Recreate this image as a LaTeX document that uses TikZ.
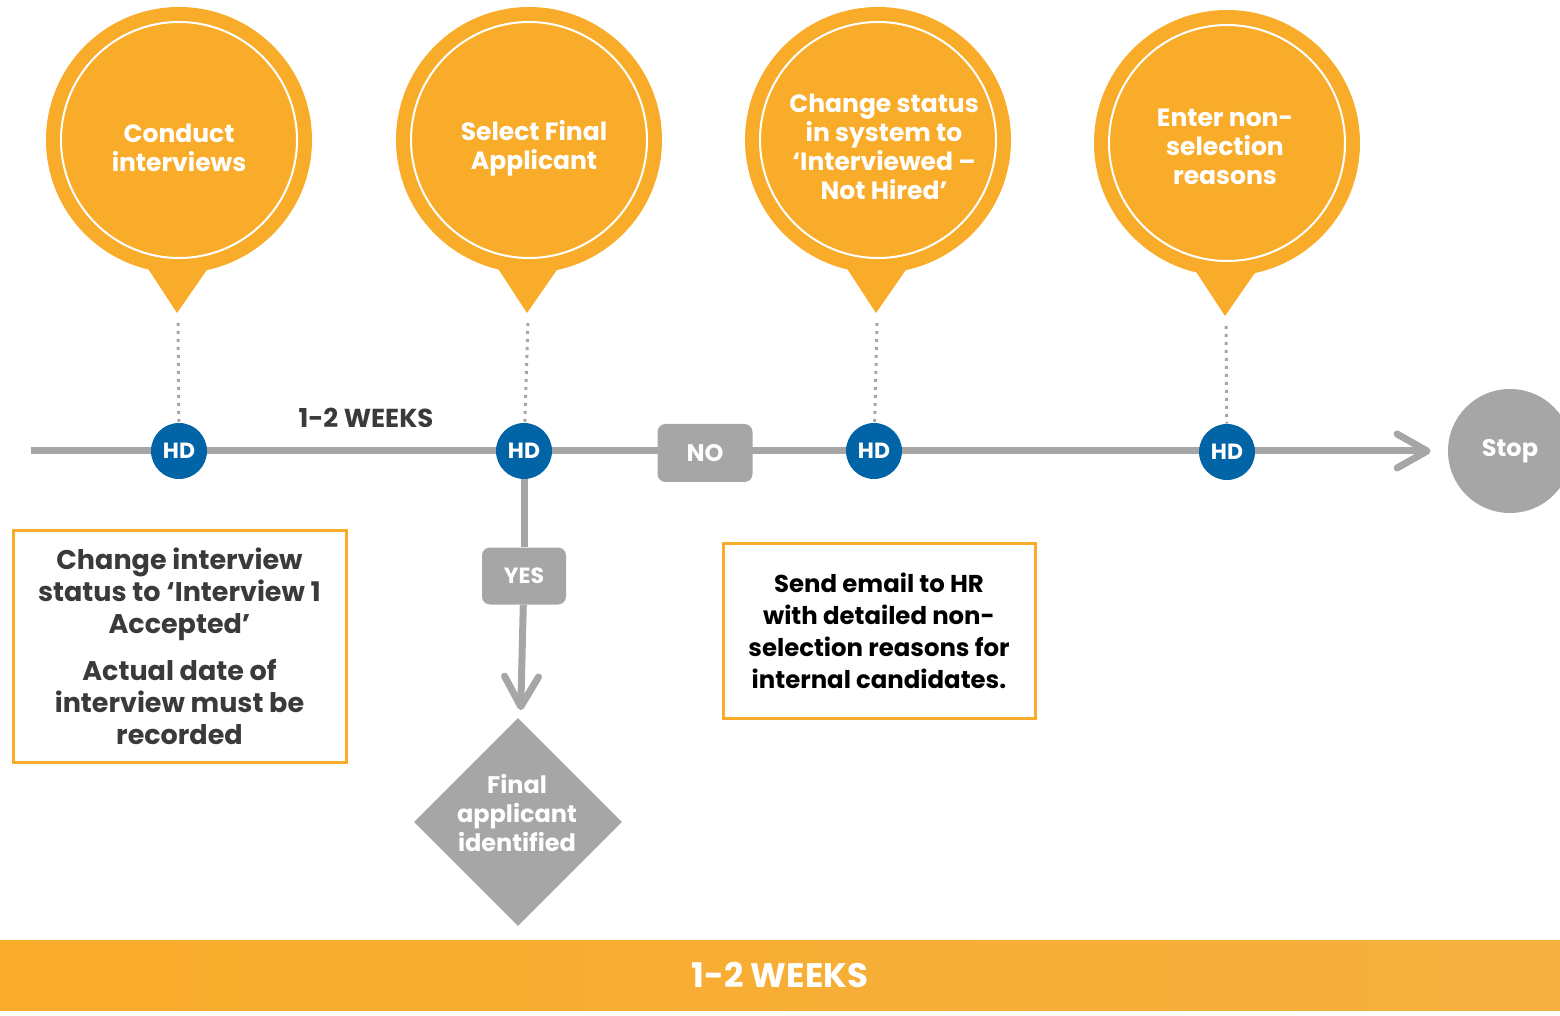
\documentclass[tikz,border=0pt]{standalone}
\usepackage{fontspec}
\setmainfont{Poppins}
\usetikzlibrary{positioning, shapes.geometric, arrows.meta, calc, backgrounds}

\definecolor{pinorange}{HTML}{F9AC2A}
\definecolor{bandlight}{HTML}{FBBA50}
\definecolor{bandright}{HTML}{F6B040}
\definecolor{linegray}{HTML}{A6A6A6}
\definecolor{hdblue}{HTML}{0064A7}
\definecolor{textgray}{HTML}{3A3A3A}

\tikzset{
  bubble/.style={circle, fill=pinorange, minimum size=133pt, inner sep=0pt,
    path picture={\draw[white, line width=1pt] (path picture bounding box.center) circle (59pt);}},
  bubbletext/.style={align=center, text=white, inner sep=0pt, font=\fontsize{12.5}{14.5}\selectfont\bfseries},
  hd/.style={circle, fill=hdblue, minimum size=28pt, inner sep=0pt, text=white, font=\fontsize{11}{12}\selectfont\bfseries},
  tag/.style={rectangle, rounded corners=4pt, fill=linegray, text=white, inner sep=0pt, font=\fontsize{12}{13}\selectfont\bfseries},
  note/.style={rectangle, draw=pinorange, line width=1.5pt, align=center, inner sep=0pt, font=\fontsize{13.5}{16}\selectfont\bfseries},
  decision/.style={diamond, aspect=1, fill=linegray, minimum width=104pt, minimum height=104pt, inner sep=0pt},
  mainline/.style={draw=linegray, line width=3.5pt},
  flowarrow/.style={mainline, -{Straight Barb[length=15pt, width=17pt, round]}},
  dotline/.style={draw=linegray, line width=1.5pt, dash pattern=on 1.5pt off 2.5pt}
}

\begin{document}
\begin{tikzpicture}[x=0.5pt, y=-0.5pt]
    \useasboundingbox (0,0) rectangle (1560,1016);

    \node[bubble] (c1) at (179,140) {};
    \node[bubble] (c2) at (529,140) {};
    \node[bubble] (c3) at (878,140) {};
    \node[bubble] (c4) at (1227,143) {};
    \foreach \n in {1,...,4} {
        \fill[pinorange] ($(c\n)+(-34,124)$) -- ($(c\n)+(-2,173)$) -- ($(c\n)+(32,124)$) -- cycle;
        \coordinate (t\n) at ($(c\n)+(-1,173)$);
    }
    \node[bubbletext] (c1text) at (179,148) {Conduct\\interviews};
    \node[bubbletext] (c2text) at (534,148) {Select Final\\Applicant};
    \node[bubbletext] (c3text) at (884,147) {Change status\\in system to\\‘Interviewed –\\Not Hired’};
    \node[bubbletext] (c4text) at (1225,147) {Enter non-\\selection\\reasons};

    \node[hd] (h1) at (179,451) {HD};
    \node[hd] (h2) at (524,451) {HD};
    \node[hd] (h3) at (874,451) {HD};
    \node[hd] (h4) at (1227,452) {HD};

    \node[tag, minimum width=47.5pt, minimum height=29pt] (no) at (705,453) {NO};
    \node[tag, minimum width=42pt, minimum height=28.5pt, font=\fontsize{11}{12}\selectfont\bfseries] (yes) at (524,576) {YES};
    \node[decision] (final) at (518,822) {};
    \node[bubbletext, font=\fontsize{12}{14.5}\selectfont\bfseries] (finaltext) at (517,813) {Final\\applicant\\identified};
    \node[circle, fill=linegray, minimum size=62pt, inner sep=0pt, text=white, font=\fontsize{12}{13}\selectfont\bfseries] (stop) at (1510,451) {Stop};

    \node[text=textgray, font=\fontsize{13}{14}\selectfont\bfseries] (weeks) at (366,418) {1-2 WEEKS};

    \node[note, text=textgray, minimum width=166.5pt, minimum height=116pt] (note1) at (179.5,646)
        {Change interview\\status to ‘Interview 1\\Accepted’\\[7.5pt]Actual date of\\interview must be\\recorded};
    \node[note, text=black, minimum width=156pt, minimum height=87.5pt, font=\fontsize{12.2}{16}\selectfont\bfseries] (note2) at (879,630.5)
        {Send email to HR\\with detailed non-\\selection reasons for\\internal candidates.};

    \node[minimum width=780pt, minimum height=35pt, inner sep=0pt, left color=pinorange, middle color=bandlight, right color=bandright,
        text=white, font=\fontsize{17}{20}\selectfont\bfseries] (band) at (780,975) {1-2 WEEKS};

    \coordinate (start) at (31,451);
    \begin{pgfonlayer}{background}
        \draw[flowarrow, shorten >=8.5pt] (start) -- (stop);
        \draw[mainline] (h2) -- (yes);
        \draw[flowarrow, shorten >=5pt] (yes) -- (final);
        \foreach \n in {1,...,4}
            \draw[dotline] ($(t\n)+(0,10)$) -- (h\n);
    \end{pgfonlayer}
\end{tikzpicture}
\end{document}
